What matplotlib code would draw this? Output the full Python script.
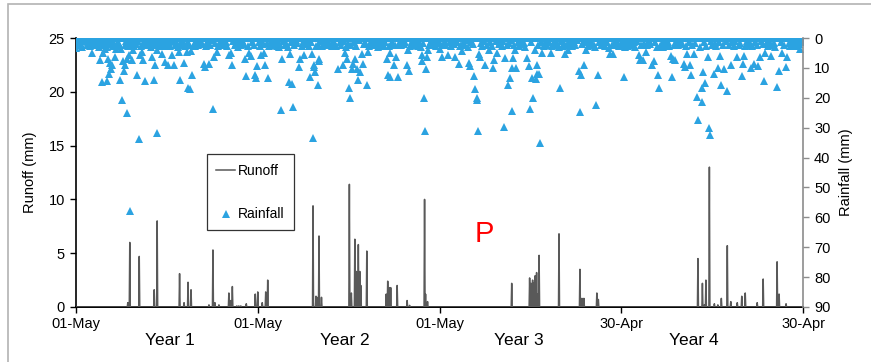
import numpy as np
import matplotlib
matplotlib.use("Agg")
import matplotlib.pyplot as plt
from matplotlib.patches import Rectangle
from matplotlib.lines import Line2D

plt.rcParams['font.family'] = ['Liberation Sans', 'DejaVu Sans']

# ---------------- data ----------------
n_days = 1461
xtick_days = [0, 365, 730, 1095, 1460]
xtick_labels = ['01-May', '01-May', '01-May', '30-Apr', '30-Apr']
year_labels = ['Year 1', 'Year 2', 'Year 3', 'Year 4']
year_label_days = [189, 539, 890, 1240]

# runoff events (day index, mm)
runoff_events = [
    (104, 0.4), (108, 6.0), (127, 4.7), (157, 1.6), (163, 8.0), (208, 3.1), (217, 0.4),
    (225, 2.3), (231, 1.6), (267, 0.2), (275, 5.3), (279, 0.4), (287, 0.2), (307, 1.3),
    (311, 0.6), (314, 1.9), (323, 0.1), (327, 0.1), (331, 0.1), (342, 0.3), (360, 1.2),
    (365, 1.4), (374, 0.4), (381, 1.4), (385, 2.5),
    (476, 9.4), (482, 1.0), (484, 0.9), (488, 6.6), (493, 0.9), (549, 11.4), (553, 1.3),
    (560, 6.3), (563, 3.3), (567, 5.8), (570, 3.3), (572, 2.0), (584, 5.2), (623, 1.2),
    (626, 2.4), (630, 1.8), (632, 1.8), (645, 2.0), (665, 0.6), (670, 0.15), (700, 10.0),
    (702, 1.2), (706, 0.5),
    (875, 2.2), (911, 2.7), (914, 2.2), (917, 2.5), (919, 2.2), (922, 2.9), (925, 3.2),
    (928, 1.2), (930, 4.8), (970, 6.8), (1012, 3.5), (1016, 0.8), (1018, 0.7), (1020, 0.8),
    (1046, 1.3), (1049, 0.7),
    (1249, 4.5), (1258, 2.2), (1262, 0.2), (1265, 2.5), (1272, 13.0), (1282, 0.3),
    (1289, 0.2), (1296, 0.8), (1308, 5.7), (1315, 0.5), (1328, 0.4), (1337, 1.0),
    (1344, 1.3), (1368, 0.4), (1380, 2.6), (1408, 4.2), (1412, 1.2), (1426, 0.3),
]

# rainfall: light-rain days (day index, mm)
rain_light = [
    (1, 1.2), (4, 2.4), (7, 0.8), (10, 1.9), (13, 2.9), (16, 1.1), (19, 0.6), (22, 2.2),
    (25, 1.5), (28, 2.7), (31, 0.9), (35, 1.7), (38, 2.5), (41, 1.0), (44, 2.0), (47, 3.0),
    (50, 1.4), (53, 2.3), (57, 0.7), (60, 1.8), (62, 2.9), (66, 1.3), (69, 2.1), (71, 0.9),
    (74, 2.6), (76, 1.6), (82, 2.8), (84, 1.2), (86, 2.0), (99, 2.4), (101, 1.1), (105, 2.7),
    (109, 1.5), (111, 2.3), (114, 0.8), (117, 2.6), (119, 1.4), (121, 2.0), (125, 1.0),
    (131, 2.8), (134, 1.6), (137, 2.2), (141, 0.9), (144, 2.5), (147, 1.3), (150, 2.9),
    (154, 1.8), (156, 0.7), (161, 2.4), (165, 1.2), (168, 2.7), (170, 1.6), (175, 2.1),
    (177, 0.8), (181, 2.6), (186, 1.5), (189, 2.8), (194, 1.0), (199, 2.3), (202, 1.7),
    (204, 2.9), (210, 1.2), (213, 2.4), (215, 0.9), (219, 2.7), (224, 1.4), (227, 2.2),
    (236, 1.9), (239, 2.8), (242, 1.1), (245, 2.5), (248, 0.8), (251, 2.0), (254, 1.6),
    (262, 2.6), (264, 1.3), (270, 2.3), (273, 0.7), (280, 1.8), (286, 2.7), (289, 1.2),
    (292, 2.4), (295, 0.9), (298, 2.1), (301, 1.5), (304, 2.8), (316, 1.0), (319, 2.5),
    (322, 1.7), (325, 2.9), (328, 1.1), (331, 2.2), (334, 0.8), (337, 1.9), (345, 2.6),
    (354, 1.3), (357, 2.4),
    (367, 1.4), (369, 2.6), (374, 0.9), (376, 2.1), (383, 1.7), (388, 2.8), (391, 1.1),
    (394, 2.3), (397, 0.7), (400, 1.9), (403, 2.7), (405, 1.3), (409, 2.2), (416, 1.0),
    (419, 2.5), (422, 1.6), (425, 2.9), (432, 1.2), (438, 2.4), (441, 0.8), (444, 1.8),
    (453, 2.6), (456, 1.4), (461, 2.1), (464, 0.9), (467, 2.8), (472, 1.5), (485, 2.3),
    (491, 1.1), (495, 2.7), (498, 1.6), (501, 0.8), (504, 2.2), (507, 1.3), (514, 2.6),
    (517, 0.9), (520, 1.9), (523, 2.8), (530, 1.4), (533, 2.4), (539, 1.0), (543, 2.9),
    (547, 1.7), (552, 2.3), (559, 1.2), (562, 2.7), (569, 0.8), (579, 2.1), (581, 1.5),
    (589, 2.6), (592, 1.1), (595, 2.0), (598, 0.7), (601, 2.4), (604, 1.8), (607, 2.9),
    (610, 1.3), (613, 2.2), (616, 0.9), (619, 2.6), (621, 1.5), (628, 2.8), (635, 1.2),
    (640, 2.3), (649, 1.7), (652, 2.5), (655, 0.8), (658, 2.0), (661, 1.4), (671, 2.7),
    (674, 1.1), (677, 2.3), (680, 0.9), (683, 1.8), (686, 2.6), (689, 1.3), (692, 2.9),
    (697, 1.6), (709, 2.2), (712, 1.0), (715, 2.5), (720, 1.4), (723, 2.8), (726, 0.9),
    (732, 1.8), (738, 2.5), (741, 1.0), (744, 2.2), (751, 1.5), (754, 2.8), (757, 0.9),
    (759, 2.0), (765, 1.3), (772, 2.6), (778, 1.7), (781, 2.4), (784, 0.8), (787, 2.9),
    (794, 1.2), (797, 2.1), (813, 1.6), (816, 2.7), (819, 1.0), (825, 2.3), (832, 1.4),
    (835, 2.6), (843, 0.9), (849, 2.0), (852, 1.5), (855, 2.8), (858, 1.1), (865, 2.4),
    (869, 1.8), (873, 0.7), (880, 2.2), (887, 1.3), (890, 2.6), (893, 0.9), (896, 2.0),
    (899, 1.6), (902, 2.9), (913, 1.2), (928, 2.3), (933, 1.5), (939, 2.7), (943, 1.0),
    (946, 2.2), (949, 1.4), (956, 2.6), (961, 0.8), (964, 1.9), (967, 2.5), (975, 1.1),
    (978, 2.8), (981, 1.6), (986, 2.3), (991, 0.9), (994, 1.8), (997, 2.7), (1000, 1.3),
    (1003, 2.4), (1006, 0.8), (1017, 2.1), (1023, 1.5), (1028, 2.6), (1031, 1.0),
    (1034, 2.2), (1037, 1.7), (1043, 2.9), (1051, 1.2), (1054, 2.4), (1057, 0.9),
    (1060, 1.9), (1063, 2.6), (1066, 1.4), (1076, 2.3), (1082, 1.0), (1085, 2.5),
    (1088, 1.6), (1091, 2.8),
    (1097, 1.5), (1099, 2.4), (1105, 1.0), (1108, 2.7), (1111, 1.8), (1114, 0.9),
    (1117, 2.2), (1120, 1.4), (1123, 2.9), (1126, 1.1), (1135, 2.5), (1141, 1.6),
    (1147, 2.3), (1150, 0.8), (1153, 2.0), (1163, 1.3), (1173, 2.6), (1176, 1.7),
    (1179, 2.9), (1182, 1.0), (1185, 2.2), (1188, 1.5), (1191, 2.8), (1205, 1.2),
    (1208, 2.5), (1211, 0.9), (1214, 2.1), (1217, 1.6), (1226, 2.7), (1231, 1.3),
    (1238, 2.4), (1244, 1.8), (1253, 2.9), (1262, 1.4), (1266, 2.6), (1276, 1.1),
    (1278, 2.3), (1284, 1.7), (1286, 2.8), (1292, 1.2), (1299, 2.5), (1305, 0.9),
    (1311, 2.2), (1318, 1.5), (1321, 2.7), (1324, 1.0), (1331, 2.4), (1334, 1.8),
    (1344, 2.6), (1347, 1.1), (1350, 2.3), (1353, 1.6), (1358, 2.8), (1364, 1.2),
    (1367, 2.4), (1376, 0.9), (1379, 2.1), (1387, 1.5), (1390, 2.7), (1392, 1.0),
    (1398, 2.2), (1401, 1.6), (1404, 2.9), (1415, 1.3), (1421, 2.5), (1431, 1.8),
    (1434, 2.6), (1437, 1.1), (1440, 2.3), (1443, 1.4), (1446, 2.8), (1449, 0.9),
    (1452, 2.0), (1457, 1.5),
]

# rainfall: larger events (day index, mm)
rain_year1 = [
    (0, 3.3), (33, 4.9), (48, 7.5), (52, 14.7), (55, 4.9), (58, 3.6), (63, 14.3), (64, 6.9),
    (67, 11.9), (68, 8.3), (70, 10.3), (72, 9.1), (78, 6.4), (80, 3.6), (88, 14.2), (90, 3.8),
    (92, 20.9), (94, 7.8), (96, 11.2), (98, 9.1), (102, 6.9), (103, 25.0), (107, 5.8),
    (108, 58.0), (112, 7.5), (115, 4.1), (123, 12.3), (127, 33.7), (129, 5.8), (132, 4.7),
    (135, 7.5), (138, 14.5), (152, 6.4), (157, 14.2), (159, 9.1), (162, 31.7), (163, 4.1),
    (172, 5.2), (179, 8.0), (184, 9.1), (192, 5.8), (197, 8.9), (206, 4.7), (208, 14.2),
    (217, 8.4), (222, 4.7), (225, 16.6), (229, 17.2), (231, 4.5), (233, 12.3), (257, 8.6),
    (259, 9.7), (267, 8.6), (276, 23.9), (277, 6.4), (283, 4.7), (308, 5.8), (312, 4.9),
    (313, 9.1), (340, 6.9), (342, 12.7), (348, 4.9), (351, 6.0), (360, 12.3), (362, 13.4),
    (363, 9.4),
]
rain_year2 = [
    (371, 5.6), (378, 4.9), (380, 8.9), (385, 13.4), (407, 3.0), (411, 24.2), (413, 7.1),
    (427, 14.7), (429, 5.2), (434, 15.3), (435, 23.1), (447, 9.7), (450, 6.9), (458, 5.8),
    (470, 13.0), (474, 5.2), (476, 33.5), (477, 9.7), (478, 9.1), (480, 11.4), (482, 2.7),
    (487, 15.6), (488, 6.9), (489, 7.8), (511, 2.5), (527, 10.5), (536, 8.9), (541, 4.9),
    (545, 6.9), (549, 16.7), (550, 20.1), (554, 10.3), (557, 8.6), (561, 6.9), (564, 10.3),
    (567, 14.2), (571, 11.4), (574, 5.2), (577, 8.6), (584, 15.6), (586, 4.7), (624, 7.1),
    (626, 12.5), (630, 4.9), (631, 13.0), (632, 2.5), (638, 9.1), (643, 6.4), (646, 13.0),
    (665, 8.9), (666, 4.1), (668, 11.2), (694, 5.8), (695, 7.8), (698, 20.1), (700, 31.2),
    (702, 10.3), (705, 6.4), (706, 4.1), (717, 2.5),
]
rain_year3 = [
    (730, 3.6), (735, 6.4), (748, 5.8), (762, 6.4), (769, 8.6), (774, 2.5), (775, 4.5),
    (790, 8.3), (791, 9.4), (800, 12.7), (802, 17.0), (805, 20.1), (806, 20.9), (807, 31.2),
    (809, 5.2), (811, 6.4), (822, 8.9), (829, 4.1), (838, 10.0), (840, 7.5), (846, 4.9),
    (860, 29.8), (862, 6.7), (867, 15.6), (871, 13.4), (875, 24.5), (876, 10.0), (878, 6.7),
    (882, 4.1), (884, 10.0), (906, 6.7), (909, 9.4), (911, 23.9), (916, 13.4), (918, 20.1),
    (921, 4.1), (923, 13.8), (925, 8.9), (926, 11.9), (930, 11.9), (931, 35.0), (936, 4.9),
    (940, 2.5), (953, 4.9), (958, 2.5), (970, 3.0), (972, 16.7), (983, 5.2), (988, 4.1),
    (1010, 11.2), (1013, 24.8), (1014, 12.3), (1020, 8.9), (1025, 4.1), (1040, 2.5),
    (1045, 22.5), (1048, 12.3), (1070, 3.3), (1073, 5.2), (1079, 5.2),
]
rain_year4 = [
    (1101, 13.0), (1102, 3.0), (1130, 5.6), (1132, 7.5), (1139, 7.5), (1144, 4.7),
    (1157, 9.1), (1160, 7.8), (1166, 3.0), (1168, 12.5), (1170, 16.7), (1194, 6.0),
    (1197, 13.0), (1199, 6.9), (1200, 2.5), (1202, 7.5), (1221, 8.6), (1224, 9.7),
    (1228, 5.2), (1234, 9.1), (1236, 12.3), (1241, 5.2), (1248, 19.8), (1250, 27.5),
    (1257, 16.7), (1258, 21.4), (1260, 11.4), (1264, 15.0), (1269, 6.4), (1271, 30.1),
    (1273, 32.4), (1281, 11.9), (1289, 10.0), (1294, 6.0), (1296, 15.8), (1302, 10.5),
    (1308, 17.8), (1315, 9.1), (1328, 6.4), (1338, 12.7), (1339, 8.6), (1341, 6.0),
    (1355, 10.0), (1361, 8.6), (1370, 9.4), (1373, 6.4), (1382, 14.5), (1384, 5.0),
    (1395, 6.0), (1408, 16.4), (1412, 11.2), (1418, 5.0), (1425, 9.7), (1428, 6.4),
    (1454, 3.6),
]

# ---------------- build daily series ----------------
days = np.arange(n_days)
runoff = np.zeros(n_days)
for d, v in runoff_events:
    runoff[d] = v
rain = np.zeros(n_days)
for d, v in rain_light:
    rain[d] = v
for lst in (rain_year1, rain_year2, rain_year3, rain_year4):
    for d, v in lst:
        rain[d] = v

# ---------------- figure ----------------
W, H = 871, 362
fig = plt.figure(figsize=(W / 100, H / 100), dpi=100)
ax = fig.add_axes([76 / W, 1 - 307 / H, (803 - 76) / W, (307 - 38) / H])
ax2 = ax.twinx()

rain_color = '#2ba3e1'
runoff_color = '#595959'

ax.plot(days, runoff, color=runoff_color, lw=1.1, zorder=3)
ax2.plot(days, rain, linestyle='none', marker='^', markersize=5.5,
         color=rain_color, markeredgewidth=0, zorder=2)

ax.set_xlim(0, n_days - 1)
ax.set_ylim(0, 25)
ax.set_yticks([0, 5, 10, 15, 20, 25])
ax2.set_ylim(90, 0)
ax2.set_yticks(list(range(0, 91, 10)))
ax.set_xticks(xtick_days)
ax.set_xticklabels(xtick_labels)

for a in (ax, ax2):
    a.spines['top'].set_visible(False)
    a.patch.set_visible(False)
ax.spines['right'].set_visible(False)
ax2.spines['left'].set_visible(False)
ax2.spines['bottom'].set_visible(False)
ax.spines['left'].set_color('black')
ax.spines['bottom'].set_color('black')
ax.spines['left'].set_linewidth(1.2)
ax.spines['bottom'].set_linewidth(1.4)
ax2.spines['right'].set_color('#8c8c8c')
ax2.spines['right'].set_linewidth(1.2)

ax.tick_params(axis='y', direction='out', length=4, width=1, labelsize=10.5, pad=4)
ax.tick_params(axis='x', direction='out', length=4, width=1, labelsize=10.5, pad=3)
ax2.tick_params(axis='y', direction='out', length=4, width=1, colors='#8c8c8c',
                labelcolor='black', labelsize=10.5, pad=4)

ax.set_ylabel('Runoff (mm)', fontsize=10.5, labelpad=8)
ax2.set_ylabel('Rainfall (mm)', fontsize=10.5, labelpad=6)

# year labels
for d, lab in zip(year_label_days, year_labels):
    ax.text(d, -0.095, lab, transform=ax.get_xaxis_transform(), ha='center', va='top',
            fontsize=12.5)

# red P
ax.text(0.562, 0.27, 'P', transform=ax.transAxes, color='red', fontsize=21,
        ha='center', va='center')

# legend
handles = [Line2D([0], [0], color=runoff_color, lw=1.1),
           Line2D([0], [0], linestyle='none', marker='^', color=rain_color,
                  markersize=5.5, markeredgewidth=0)]
leg = ax.legend(handles, ['Runoff', 'Rainfall'], loc='upper left',
                bbox_to_anchor=(0.180, 0.567), frameon=True, fancybox=False,
                edgecolor='black', fontsize=10, labelspacing=2.15,
                handlelength=1.4, handletextpad=0.2, borderpad=0.65,
                borderaxespad=0)
leg.get_frame().set_linewidth(0.9)
leg.set_zorder(10)

# outer frame
fig.add_artist(Rectangle((8 / W, -0.05), 1.0, 1 - 4 / H + 0.05, transform=fig.transFigure,
                         fill=False, edgecolor='#b3b3b3', lw=1.2))

fig.savefig('out.png', dpi=100)
